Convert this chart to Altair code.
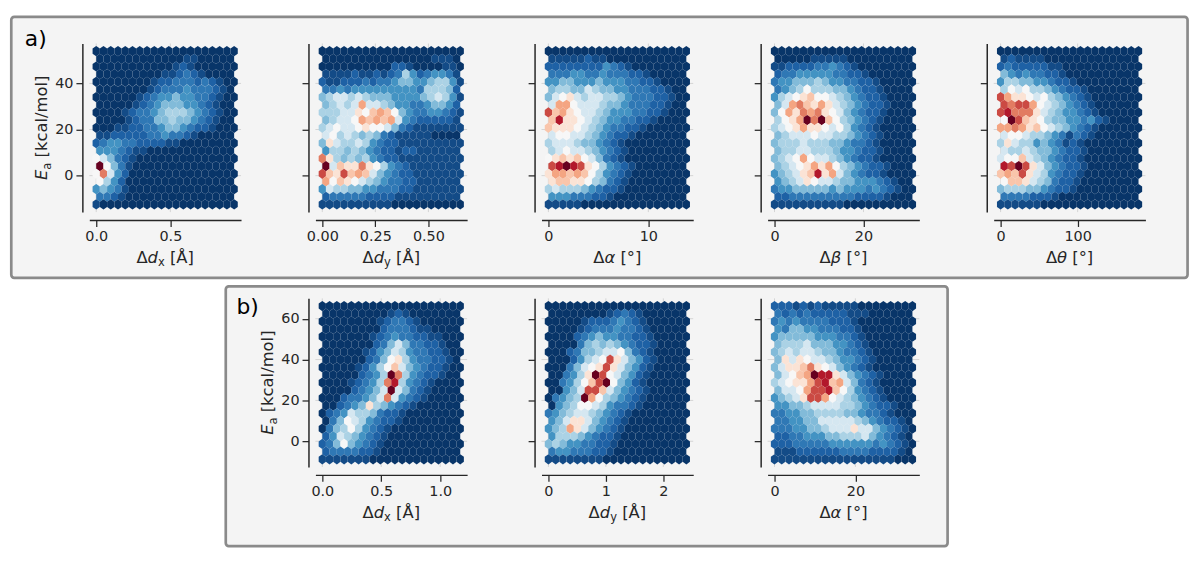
import altair as alt
import pandas as pd

FONT = "DejaVu Sans"
INK = "#262626"

# colour levels (0 = darkest blue ... f = darkest red)
LEVEL_CHARS = "0123456789abcdef"
LEVEL_VALUES = [0.01, 0.05, 0.09, 0.14, 0.2, 0.28, 0.34, 0.41, 0.5, 0.57, 0.64, 0.7, 0.76, 0.83, 0.9, 1.0]
# RdBu reversed colour stops
CMAP_STOPS = [0.0, 0.1, 0.2, 0.3, 0.4, 0.5, 0.6, 0.7, 0.8, 0.9, 1.0]
CMAP_COLORS = ["#053061", "#2166ac", "#4393c3", "#92c5de", "#d1e5f0", "#f7f7f7",
               "#fddbc7", "#f4a582", "#d6604d", "#b2182b", "#67001f"]

# data extents of each hexbin panel
ROW_A_Y_RANGE = [-12.5, 54.0]
ROW_B_Y_RANGE = [-8.8, 66.2]
A1_X_RANGE = [0.0, 0.93]
A2_X_RANGE = [0.0, 0.65]
A3_X_RANGE = [0.0, 13.8]
A4_X_RANGE = [0.0, 31.0]
A5_X_RANGE = [0.0, 179.0]
B1_X_RANGE = [0.0, 1.17]
B2_X_RANGE = [0.0, 2.40]
B3_X_RANGE = [0.0, 34.1]

ROW_A_Y_TICKS = [0, 20, 40]
ROW_B_Y_TICKS = [0, 20, 40, 60]
A1_X_TICKS = [0.0, 0.5]
A2_X_TICKS = [0.0, 0.25, 0.5]
A3_X_TICKS = [0, 10]
A4_X_TICKS = [0, 20]
A5_X_TICKS = [0, 100]
B1_X_TICKS = [0.0, 0.5, 1.0]
B2_X_TICKS = [0, 1, 2]
B3_X_TICKS = [0, 20]

# hexbin cells, rows from top to bottom (even rows 20 cells, odd rows 19 cells)
A1_GRID = [
    "00000000000000000000",
    "0000000000001100000",
    "00000000000121000000",
    "0000000001123210000",
    "00000000122333232100",
    "0000000123334333210",
    "00000012344544332100",
    "0000012345554432100",
    "00001233456665432100",
    "0000123355655432100",
    "00011223345543221000",
    "1122222334332100000",
    "23443322221100000000",
    "4443211000000000000",
    "87532100000000000000",
    "f853100000000000000",
    "8c742000000000000000",
    "8642000000000000000",
    "45431000000000000000",
    "3321000000000000000",
    "10000000000000000000",
]
A2_GRID = [
    "00000000000000000000",
    "0000000000000001110",
    "00000000002210000110",
    "1111211212364234431",
    "21122232334554456641",
    "3343444444444366652",
    "56776765554444567641",
    "56767b7765443345542",
    "6667798aba8543344321",
    "56778babab743222221",
    "67877898875321111111",
    "7867656532111110000",
    "59766764322111111111",
    "4665654322122111111",
    "c9656564322111111111",
    "f7a99c9864321111111",
    "da9daba7543221111111",
    "b8a9876543322111111",
    "47665544333221111111",
    "2333332222111111111",
    "11111111110000000000",
]
A3_GRID = [
    "00000000000000000000",
    "1111121100000000000",
    "22222222432100000000",
    "3334433433322100000",
    "44554445444332210000",
    "5665576554433322100",
    "57897677665433322100",
    "7bb8777655433322100",
    "dab98776544433221000",
    "ae99876544332210000",
    "a9998765433221000000",
    "7887765432210000000",
    "67776554321000000000",
    "6787765432100000000",
    "89a9a875321000000000",
    "defed98643210000000",
    "9bbaba86432100000000",
    "9aa9986532100000000",
    "67666543221000000000",
    "4443332210000000000",
    "11111000000000000000",
]
A4_GRID = [
    "00000000000000000000",
    "0000011111000000000",
    "11222233432100000000",
    "2334444433221000000",
    "34455565443322100000",
    "3456866655432210000",
    "46789a88765432210000",
    "57bca9b976543221000",
    "58b9cbc9875432210000",
    "689bfcfa86543210000",
    "6789b998786432100000",
    "5677787766543210000",
    "56667666554332100000",
    "5667766654432210000",
    "5678b877654322100000",
    "56789b9b86543221000",
    "45679ae9b75432210000",
    "4567987765544432100",
    "34455555454443432100",
    "2233333333322221000",
    "11111111110000000000",
]
A5_GRID = [
    "00000000000000000000",
    "1211110000000000000",
    "23222221100000000000",
    "5434332210000000000",
    "46655443221000000000",
    "6878665432210000000",
    "db998786543210000000",
    "dcddb87654321000000",
    "deccc976544321000000",
    "8fda986554434210000",
    "bbcb9a87654321000000",
    "7887665431321000000",
    "69766454312100000000",
    "7667655432210000000",
    "788a7654322100000000",
    "edfd975432210000000",
    "abad9764322100000000",
    "8aa9765322100000000",
    "56665543221000000000",
    "3333222100000000000",
    "11111100000000000000",
]
B1_GRID = [
    "00000000000000000000",
    "0000000001210000000",
    "00000000123321000000",
    "0000000023332110000",
    "00000001234332211000",
    "0000000235753322100",
    "00000012457643322100",
    "0000002358964332210",
    "0000012468a754322100",
    "000002346fc64322100",
    "000012346ce643210000",
    "000023457f753210000",
    "000233457c7432100000",
    "0023459654321000000",
    "02347665322100000000",
    "0358764322100000000",
    "03568643210000000000",
    "2476543210000000000",
    "23585432100000000000",
    "2333322100000000000",
    "11111110000000000000",
]
B2_GRID = [
    "00000000000000000000",
    "0000000012321000000",
    "00000122234321000000",
    "0000123334332100000",
    "00002345443322100000",
    "0000356565432210000",
    "00023556778532100000",
    "00024678d9754210000",
    "00035789d97542100000",
    "003469fd87542100000",
    "003468adf85421000000",
    "00457dda75432100000",
    "03456fb8654321000000",
    "0456887643321000000",
    "34567765432100000000",
    "4579975432100000000",
    "456b9754321000000000",
    "4666543221000000000",
    "56544332210000000000",
    "3443332210000000000",
    "11111111000000000000",
]
B3_GRID = [
    "22212121111100000000",
    "3232322222111000000",
    "34343333222100000000",
    "4355443332210000000",
    "45555544433210000000",
    "5666755544321000000",
    "56767765543321000000",
    "5979877654432100000",
    "5799ac98754321000000",
    "578abfee97543210000",
    "67899bdeab7532100000",
    "5778bddea8643210000",
    "45679ddb876543210000",
    "4455677776654322100",
    "33445566665543321000",
    "3344557777765432210",
    "33344556777977543210",
    "2233444556667543210",
    "22233333444444343210",
    "1112222223333222210",
    "11111111111111111000",
]

NX, NY = 19, 10
W, H = 153, 170
HEX_PATH = "M0,-1L0.711,-0.5L0.711,0.5L0,1L-0.711,0.5L-0.711,-0.5Z"
HEX_SIZE = 106
TITLE_SIZE = 16.5
SUB_SCALE = 0.7
SUB_DROP = 3.5

CHAR_W = {"Δ": .684, "d": .635, "α": .659, "β": .653, "θ": .612, "x": .592, "y": .592,
          " ": .318, "[": .390, "]": .390, "Å": .684, "°": .5, "E": .632, "a": .613,
          "k": .579, "c": .550, "l": .278, "/": .337, "m": .974, "o": .612}

ONE = pd.DataFrame({"k": [0]})


def hex_frame(grid, xr, yr):
    sx = (xr[1] - xr[0]) / NX
    sy = (yr[1] - yr[0]) / NY
    recs = []
    for r, row in enumerate(grid):
        main = r % 2 == 0
        n = NX + 1 if main else NX
        row = (row + "0" * n)[:n]
        yc = yr[1] - r * sy / 2
        for i, ch in enumerate(row):
            xc = xr[0] + (i if main else i + 0.5) * sx
            recs.append({"x": xc, "y": yc, "v": LEVEL_VALUES[LEVEL_CHARS.index(ch)]})
    return pd.DataFrame(recs)


def text_piece(t, px, py, size, italic=False, angle=0, color=INK):
    return alt.Chart(ONE).mark_text(
        text=t, font=FONT, fontSize=size, fontStyle="italic" if italic else "normal",
        align="left", baseline="alphabetic", angle=angle, color=color,
    ).encode(x=alt.value(px), y=alt.value(py))


def piece_width(t, size):
    return sum(CHAR_W.get(c, 0.6) for c in t) * size


def title_layers(parts, rotated=False):
    # parts: list of (text, kind) kind: n normal, i italic, s subscript
    sizes = [TITLE_SIZE * SUB_SCALE if k == "s" else TITLE_SIZE for _, k in parts]
    widths = [piece_width(t, s) for (t, _), s in zip(parts, sizes)]
    total = sum(widths)
    out = []
    pos = 0.0
    for (t, k), s, w in zip(parts, sizes, widths):
        lead = len(t) - len(t.lstrip(" "))
        shown = t.lstrip(" ")
        off = pos + lead * CHAR_W[" "] * s
        if not rotated:
            px = W / 2 - total / 2 + off
            py = H + 51 + (SUB_DROP if k == "s" else 0)
            out.append(text_piece(shown, px, py, s, italic=(k == "i")))
        else:
            py = H / 2 + total / 2 - off
            px = -42.5 + (SUB_DROP if k == "s" else 0)
            out.append(text_piece(shown, px, py, s, italic=(k == "i"), angle=270))
        pos += w
    return out


def panel(grid, xr, yr, xticks, xfmt, yticks, ylabels, xtitle, extra_before=(), extra_after=()):
    rx = xr[1] - xr[0]
    ry = yr[1] - yr[0]
    xs = alt.Scale(domain=[xr[0] - 0.05 * rx, xr[1] + 0.05 * rx], nice=False, zero=False)
    ys = alt.Scale(domain=[yr[0] - 0.05 * ry, yr[1] + 0.05 * ry], nice=False, zero=False)
    xenc = alt.X("x:Q", scale=xs, axis=alt.Axis(values=xticks, format=xfmt, title="", offset=8, zindex=2))
    yenc = alt.Y("y:Q", scale=ys, axis=alt.Axis(values=yticks, format="d", title="", offset=7,
                                               labels=ylabels, zindex=2))
    vgrid = alt.Chart(pd.DataFrame({"x": xticks})).mark_rule(color="#d4d4d4", strokeWidth=1).encode(
        x=xenc, y=alt.value(0), y2=alt.value(H))
    hgrid = alt.Chart(pd.DataFrame({"y": yticks})).mark_rule(color="#d4d4d4", strokeWidth=1).encode(
        y=yenc, x=alt.value(0), x2=alt.value(W))
    hexes = alt.Chart(hex_frame(grid, xr, yr)).mark_point(
        shape=HEX_PATH, filled=True, size=HEX_SIZE, opacity=1, strokeWidth=0,
    ).encode(
        x=xenc, y=yenc,
        color=alt.Color("v:Q", scale=alt.Scale(type="linear", domain=CMAP_STOPS, range=CMAP_COLORS,
                                               interpolate="rgb"), legend=None),
    )
    layers = list(extra_before) + [vgrid, hgrid, hexes] + title_layers(xtitle) + list(extra_after)
    return alt.layer(*layers).properties(width=W, height=H)


def box(x1, x2, y1, y2):
    return alt.Chart(ONE).mark_rect(
        fill="#f4f4f4", stroke="#8a8a8a", strokeWidth=2.7, cornerRadius=3
    ).encode(x=alt.value(x1), x2=alt.value(x2), y=alt.value(y1), y2=alt.value(y2))


Y_TITLE = [("E", "i"), ("a", "s"), (" [kcal/mol]", "n")]

a1 = panel(A1_GRID, A1_X_RANGE, ROW_A_Y_RANGE, A1_X_TICKS, ".1f", ROW_A_Y_TICKS, True,
           [("Δ", "n"), ("d", "i"), ("x", "s"), (" [Å]", "n")],
           extra_before=[box(-78.7, 1107.5, -26.9, 236.3)],
           extra_after=title_layers(Y_TITLE, rotated=True) + [text_piece("a)", -65, 2.6, 22, color="black")])
a2 = panel(A2_GRID, A2_X_RANGE, ROW_A_Y_RANGE, A2_X_TICKS, ".2f", ROW_A_Y_TICKS, False,
           [("Δ", "n"), ("d", "i"), ("y", "s"), (" [Å]", "n")])
a3 = panel(A3_GRID, A3_X_RANGE, ROW_A_Y_RANGE, A3_X_TICKS, "d", ROW_A_Y_TICKS, False,
           [("Δ", "n"), ("α", "i"), (" [°]", "n")])
a4 = panel(A4_GRID, A4_X_RANGE, ROW_A_Y_RANGE, A4_X_TICKS, "d", ROW_A_Y_TICKS, False,
           [("Δ", "n"), ("β", "i"), (" [°]", "n")])
a5 = panel(A5_GRID, A5_X_RANGE, ROW_A_Y_RANGE, A5_X_TICKS, "d", ROW_A_Y_TICKS, False,
           [("Δ", "n"), ("θ", "i"), (" [°]", "n")])
blank = alt.Chart(ONE).mark_point(opacity=0).encode(x=alt.value(0), y=alt.value(0)).properties(width=W, height=H)
b1 = panel(B1_GRID, B1_X_RANGE, ROW_B_Y_RANGE, B1_X_TICKS, ".1f", ROW_B_Y_TICKS, True,
           [("Δ", "n"), ("d", "i"), ("x", "s"), (" [Å]", "n")],
           extra_before=[box(-90.4, 637.5, -12.1, 249.8)],
           extra_after=title_layers(Y_TITLE, rotated=True) + [text_piece("b)", -79.7, 15.3, 22, color="black")])
b2 = panel(B2_GRID, B2_X_RANGE, ROW_B_Y_RANGE, B2_X_TICKS, "d", ROW_B_Y_TICKS, False,
           [("Δ", "n"), ("d", "i"), ("y", "s"), (" [Å]", "n")])
b3 = panel(B3_GRID, B3_X_RANGE, ROW_B_Y_RANGE, B3_X_TICKS, "d", ROW_B_Y_TICKS, False,
           [("Δ", "n"), ("α", "i"), (" [°]", "n")])

chart = alt.concat(
    a1, a2, a3, a4, a5, blank, b1, b2, b3,
    columns=5, spacing=alt.RowColnumber(row=87, column=75), bounds="flush",
).configure_view(
    stroke="transparent"
).configure_axis(
    domainColor=INK, domainWidth=1.5, tickColor=INK, tickWidth=1.25, tickSize=6.5,
    labelFont=FONT, labelFontSize=14.5, labelColor=INK, labelPadding=3,
    labelFlush=False, labelOverlap=False, grid=False,
).properties(
    padding={"left": 1, "top": 4.5, "right": 5, "bottom": 5}, background="white"
)

chart.save("out.html", embed_options={"renderer": "svg", "actions": False})
